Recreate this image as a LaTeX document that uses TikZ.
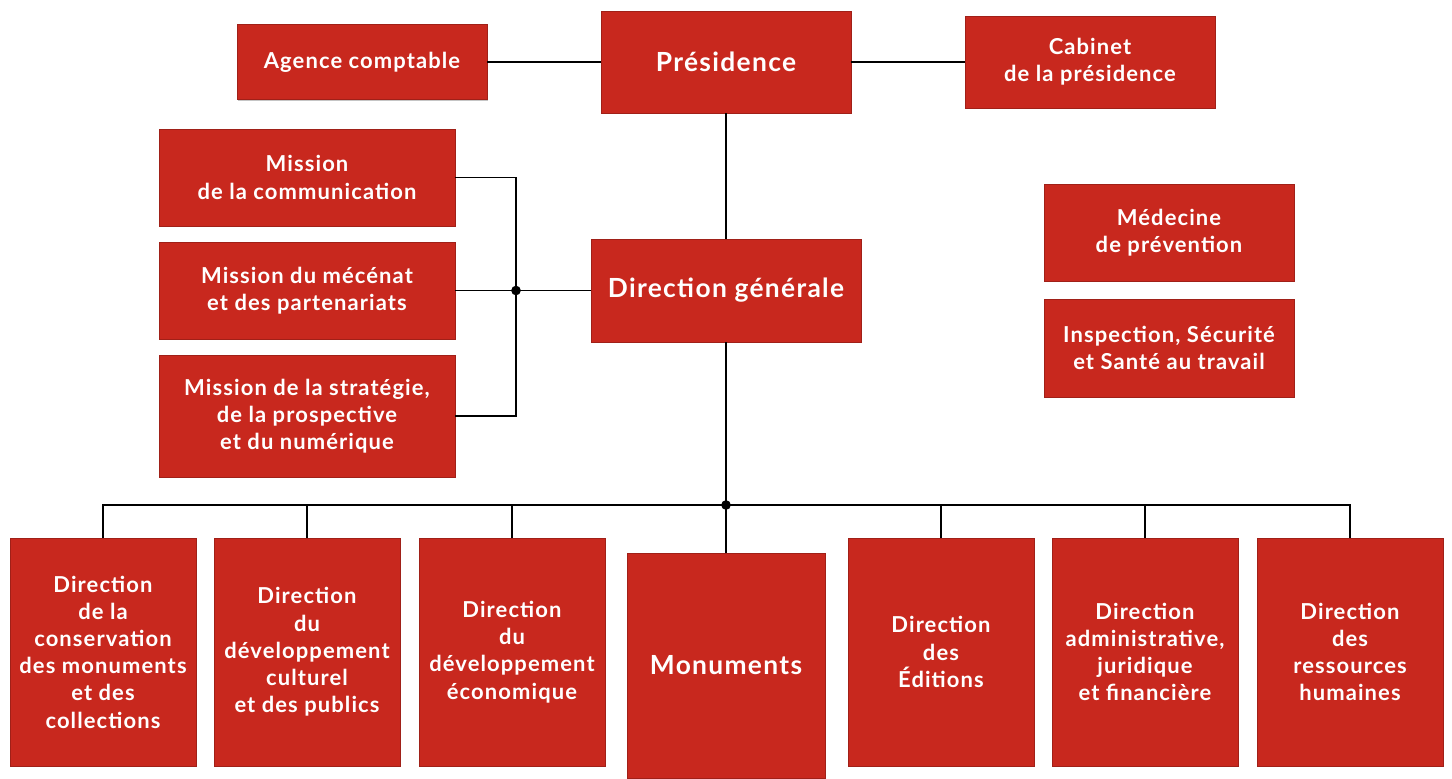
\documentclass[tikz,border=0pt]{standalone}
\usepackage{fontspec}
\setmainfont{Lato}[LetterSpace=5]
\usetikzlibrary{shadows}
\definecolor{orgred}{RGB}{200,40,30}

\tikzset{
  unit/.style={draw=orgred!80!black, line width=0.4pt, fill=orgred, text=white,
    font=\bfseries\fontsize{12.5}{15.5}\selectfont, align=center, inner sep=0pt,
    drop shadow={shadow xshift=0.8pt, shadow yshift=-0.8pt, fill=black!45}},
  topunit/.style={unit, font=\bfseries\fontsize{15}{18}\selectfont},
  link/.style={line width=1.1pt, black},
  junction/.style={circle, fill=black, inner sep=0pt, minimum size=5.5pt}
}

\begin{document}
\begin{tikzpicture}[x=0.02cm, y=-0.02cm]
  \useasboundingbox (0,0) rectangle (1452,778);

  % Top level
  \node[topunit, minimum width=5cm, minimum height=2.04cm] (pres) at (726,62) {Présidence};
  \node[unit, minimum width=5cm, minimum height=1.5cm] (agence) at (362,62) {Agence comptable};
  \node[unit, minimum width=5cm, minimum height=1.84cm] (cabinet) at (1090,62) {Cabinet\\de la présidence};

  % Missions
  \node[unit, minimum width=5.92cm, minimum height=1.94cm] (miscom) at (307,177.5) {Mission\\de la communication};
  \node[unit, minimum width=5.92cm, minimum height=1.94cm] (mismec) at (307,290.5) {Mission du mécénat\\et des partenariats};
  \node[unit, minimum width=5.92cm, minimum height=2.44cm] (misstrat) at (307,416) {Mission de la stratégie,\\de la prospective\\et du numérique};
  \node[topunit, minimum width=5.4cm, minimum height=2.06cm] (dirgen) at (726,290.5) {Direction générale};

  % Side units
  \node[unit, minimum width=5cm, minimum height=1.94cm] (medecine) at (1169,232.5) {Médecine\\de prévention};
  \node[unit, minimum width=5cm, minimum height=1.96cm] (inspection) at (1169,348) {Inspection, Sécurité\\et Santé au travail};

  % Directions
  \node[unit, minimum width=3.72cm, minimum height=4.56cm] (dircons) at (103,652) {Direction\\de la\\conservation\\des monuments\\et des\\collections};
  \node[unit, minimum width=3.72cm, minimum height=4.56cm] (dirdev) at (307,652) {Direction\\du\\développement\\culturel\\et des publics};
  \node[unit, minimum width=3.72cm, minimum height=4.56cm] (direco) at (512,652) {Direction\\du\\développement\\économique};
  \node[topunit, minimum width=3.96cm, minimum height=4.5cm] (monuments) at (726,665.5) {Monuments};
  \node[unit, minimum width=3.72cm, minimum height=4.56cm] (diredit) at (941,652) {Direction\\des\\Éditions};
  \node[unit, minimum width=3.72cm, minimum height=4.56cm] (diradmin) at (1145,652) {Direction\\administrative,\\juridique\\et financière};
  \node[unit, minimum width=3.72cm, minimum height=4.56cm] (dirrh) at (1350,652) {Direction\\des\\ressources\\humaines};

  % Junctions
  \coordinate (jmis) at (516,290.5);
  \coordinate (jbus) at (726,505);

  % Links
  \draw[link] (agence.east) -- (pres.west);
  \draw[link] (pres.east) -- (cabinet.west);
  \draw[link] (pres.south) -- (dirgen.north);
  \draw[link] (miscom.east) -| (jmis) |- (misstrat.east);
  \draw[link] (mismec.east) -- (dirgen.west);
  \draw[link] (dirgen.south) -- (monuments.north);
  \draw[link] (dircons.north) |- (dirrh.north |- jbus) -- (dirrh.north);
  \foreach \d in {dirdev, direco, diredit, diradmin}
    \draw[link] (\d.north) -- (\d.north |- jbus);
  \node[junction] at (jmis) {};
  \node[junction] at (jbus) {};
\end{tikzpicture}
\end{document}
